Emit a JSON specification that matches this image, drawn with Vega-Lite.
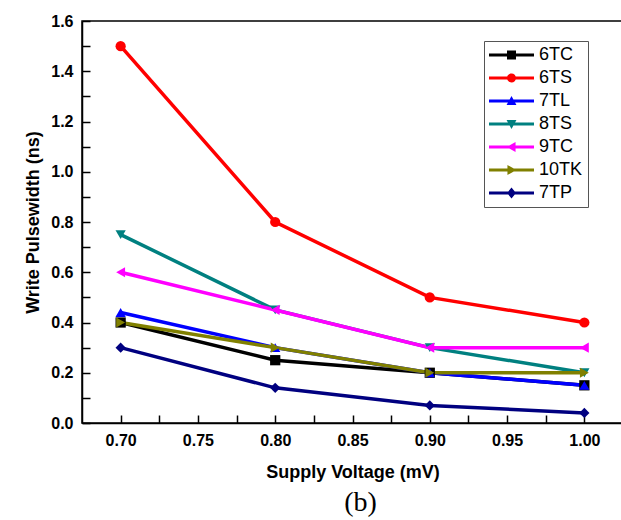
{
  "$schema": "https://vega.github.io/schema/vega-lite/v6.json",
  "width": 541,
  "height": 402,
  "autosize": {"type": "none"},
  "padding": {"left": 82, "top": 21, "right": 0, "bottom": 97},
  "background": "white",
  "config": {"view": {"stroke": "black", "strokeWidth": 1.5}, "font": "Liberation Sans"},
  "title": {"text": "(b)", "orient": "bottom", "font": "Liberation Serif", "fontSize": 28, "fontWeight": "normal", "color": "black", "offset": 8, "dx": 8},
  "data": {"values": [
    {"v": 0.7, "w": 0.4, "s": "6TC"}, {"v": 0.8, "w": 0.25, "s": "6TC"}, {"v": 0.9, "w": 0.2, "s": "6TC"}, {"v": 1.0, "w": 0.15, "s": "6TC"},
    {"v": 0.7, "w": 1.5, "s": "6TS"}, {"v": 0.8, "w": 0.8, "s": "6TS"}, {"v": 0.9, "w": 0.5, "s": "6TS"}, {"v": 1.0, "w": 0.4, "s": "6TS"},
    {"v": 0.7, "w": 0.44, "s": "7TL"}, {"v": 0.8, "w": 0.3, "s": "7TL"}, {"v": 0.9, "w": 0.2, "s": "7TL"}, {"v": 1.0, "w": 0.15, "s": "7TL"},
    {"v": 0.7, "w": 0.75, "s": "8TS"}, {"v": 0.8, "w": 0.45, "s": "8TS"}, {"v": 0.9, "w": 0.3, "s": "8TS"}, {"v": 1.0, "w": 0.2, "s": "8TS"},
    {"v": 0.7, "w": 0.6, "s": "9TC"}, {"v": 0.8, "w": 0.45, "s": "9TC"}, {"v": 0.9, "w": 0.3, "s": "9TC"}, {"v": 1.0, "w": 0.3, "s": "9TC"},
    {"v": 0.7, "w": 0.4, "s": "10TK"}, {"v": 0.8, "w": 0.3, "s": "10TK"}, {"v": 0.9, "w": 0.2, "s": "10TK"}, {"v": 1.0, "w": 0.2, "s": "10TK"},
    {"v": 0.7, "w": 0.3, "s": "7TP"}, {"v": 0.8, "w": 0.14, "s": "7TP"}, {"v": 0.9, "w": 0.07, "s": "7TP"}, {"v": 1.0, "w": 0.04, "s": "7TP"}
  ]},
  "encoding": {
    "x": {"field": "v", "type": "quantitative",
      "scale": {"domain": [0.675, 1.025], "nice": false, "zero": false},
      "axis": {
        "values": [0.7, 0.725, 0.75, 0.775, 0.8, 0.825, 0.85, 0.875, 0.9, 0.925, 0.95, 0.975, 1.0],
        "labelExpr": "abs(datum.value*20 - round(datum.value*20)) < 0.001 ? format(datum.value, '.2f') : ''",
        "labelOverlap": false, "labelFlush": false,
        "labelFont": "Liberation Sans", "labelFontSize": 16, "labelFontWeight": "bold", "labelColor": "black",
        "labelPadding": 17,
        "tickColor": "black", "tickWidth": 1.5, "tickSize": -8,
        "encode": {"ticks": {"y2": {"value": {"expr": "abs(datum.value*20 - round(datum.value*20)) < 0.001 ? -8 : -4"}}}},
        "domainColor": "black", "domainWidth": 1.5, "grid": false,
        "title": "Supply Voltage (mV)", "titleFont": "Liberation Sans", "titleFontSize": 18, "titleFontWeight": "bold", "titleColor": "black", "titlePadding": 15
      }},
    "y": {"field": "w", "type": "quantitative",
      "scale": {"domain": [0, 1.6], "nice": false},
      "axis": {
        "values": [0, 0.1, 0.2, 0.3, 0.4, 0.5, 0.6, 0.7, 0.8, 0.9, 1.0, 1.1, 1.2, 1.3, 1.4, 1.5, 1.6],
        "labelExpr": "abs(datum.value*5 - round(datum.value*5)) < 0.001 ? format(datum.value, '.1f') : ''",
        "labelOverlap": false, "labelFlush": false,
        "labelFont": "Liberation Sans", "labelFontSize": 16, "labelFontWeight": "bold", "labelColor": "black",
        "labelPadding": 17,
        "tickColor": "black", "tickWidth": 1.5, "tickSize": -8,
        "encode": {"ticks": {"x2": {"value": {"expr": "abs(datum.value*5 - round(datum.value*5)) < 0.001 ? 8 : 4"}}}},
        "domainColor": "black", "domainWidth": 1.5, "grid": false,
        "title": "Write Pulsewidth (ns)", "titleFont": "Liberation Sans", "titleFontSize": 18, "titleFontWeight": "bold", "titleColor": "black", "titlePadding": 8
      }},
    "color": {"field": "s", "type": "nominal",
      "scale": {"domain": ["6TC", "6TS", "7TL", "8TS", "9TC", "10TK", "7TP"],
                "range": ["#000000", "#FF0000", "#0000FF", "#008080", "#FF00FF", "#808000", "#000080"]},
      "legend": {
        "orient": "none", "legendX": 402, "legendY": 20, "padding": 5,
        "strokeColor": "#555555", "fillColor": "white", "title": null,
        "labelFont": "Liberation Sans", "labelFontSize": 18, "labelColor": "black", "labelLimit": 0,
        "symbolSize": 81, "symbolStrokeWidth": 0, "symbolOffset": 13.5, "labelOffset": 18.5, "rowPadding": 5,
        "encode": {"symbols": {"update": {
          "shape": {"signal": "datum.value === '6TC' ? 'M-5,-0.33H5V0.33H-5Z M-1,-1H1V1H-1Z' : datum.value === '6TS' ? 'M-5,-0.33H5V0.33H-5Z M1,0A1,1 0 1,1 -1,0A1,1 0 1,1 1,0Z' : datum.value === '7TL' ? 'M-5,-0.33H5V0.33H-5Z M0,-1.1L1.1,0.9H-1.1Z' : datum.value === '8TS' ? 'M-5,-0.33H5V0.33H-5Z M0,1.1L-1.1,-0.9H1.1Z' : datum.value === '9TC' ? 'M-5,-0.33H5V0.33H-5Z M-1.1,0L0.9,-1.1V1.1Z' : datum.value === '10TK' ? 'M-5,-0.33H5V0.33H-5Z M1.1,0L-0.9,1.1V-1.1Z' : 'M-5,-0.33H5V0.33H-5Z M0,-1.2L1,0L0,1.2L-1,0Z'"},
          "fill": {"scale": "color", "field": "value"},
          "opacity": {"value": 1}
        }}}
      }}
  },
  "layer": [
    {"mark": {"type": "line", "strokeWidth": 3.5}},
    {"mark": {"type": "point", "filled": true, "size": 105, "opacity": 1},
     "encoding": {"shape": {
       "condition": [
         {"test": "datum.s === '6TC'", "value": "square"},
         {"test": "datum.s === '6TS'", "value": "circle"},
         {"test": "datum.s === '7TL'", "value": "triangle-up"},
         {"test": "datum.s === '8TS'", "value": "triangle-down"},
         {"test": "datum.s === '9TC'", "value": "triangle-left"},
         {"test": "datum.s === '10TK'", "value": "triangle-right"}
       ],
       "value": "diamond"}}}
  ]
}
